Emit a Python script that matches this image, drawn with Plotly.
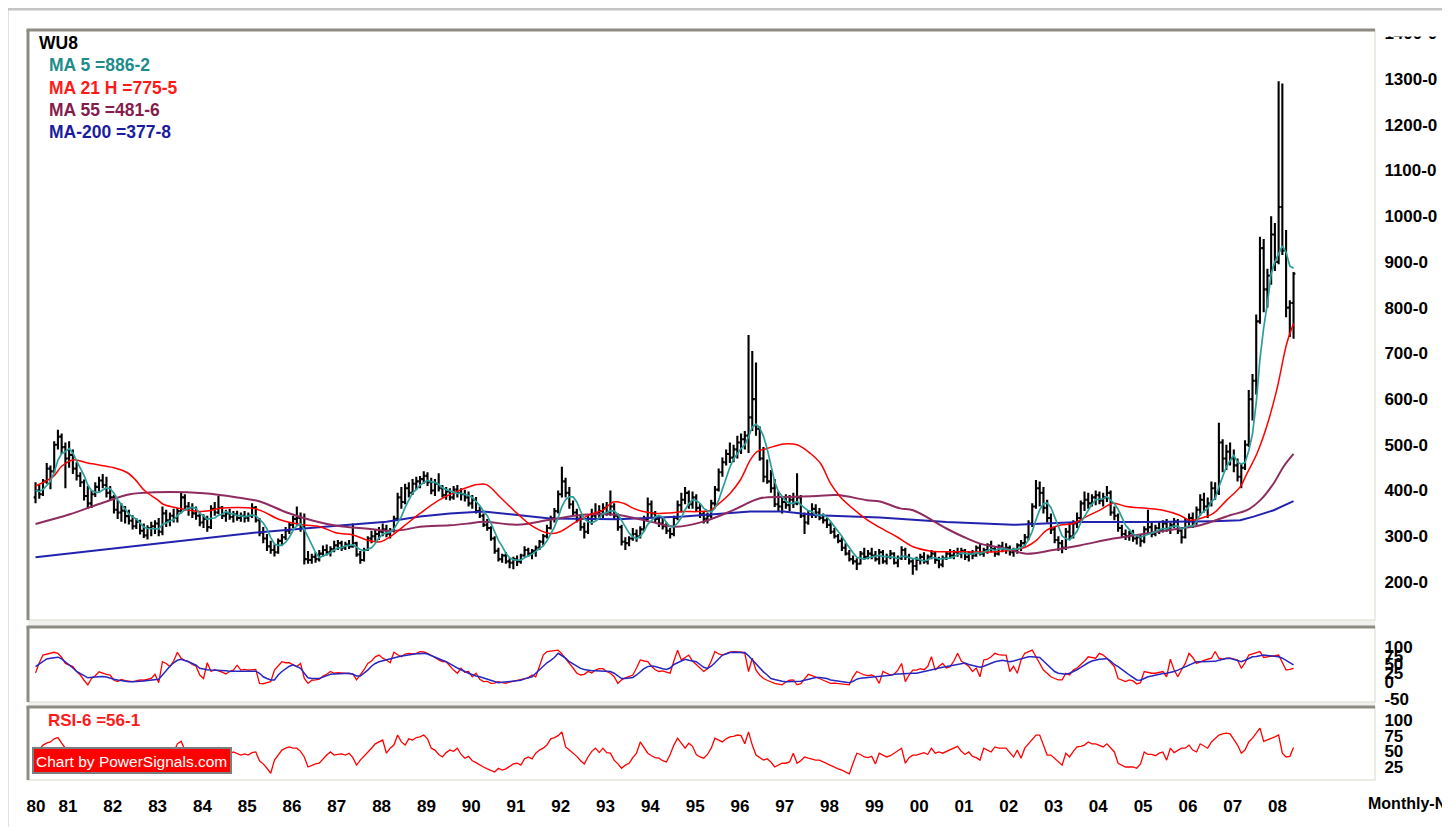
import plotly.graph_objects as go

# ---------------------------------------------------------------
# Monthly bars, May 1980 .. Jun 2008 (month index 0 = Jan 1980)
# ---------------------------------------------------------------
open_ = [
 385,400,392,420,448,442,500,518,                      # 1980 (May-Dec)
 495,470,478,448,432,418,388,372,392,408,422,412,      # 1981
 395,385,358,352,356,344,334,322,332,312,302,318,      # 1982
 322,328,310,350,335,345,340,355,385,365,362,350,      # 1983
 345,330,338,320,360,352,362,345,350,342,348,340,      # 1984
 345,340,345,362,335,308,295,278,270,265,290,298,      # 1985
 312,325,338,340,320,250,248,255,250,262,270,265,      # 1986
 272,280,285,275,282,278,285,260,248,270,295,300,      # 1987
 305,310,315,305,312,338,385,375,405,395,415,420,      # 1988
 425,432,418,400,415,405,390,398,385,402,395,392,      # 1989
 385,372,380,355,345,325,318,295,268,250,258,245,      # 1990
 242,250,245,258,270,262,268,275,288,300,318,340,      # 1991
 355,392,420,395,370,352,338,320,310,338,345,350,      # 1992
 355,362,350,365,345,320,288,285,295,305,300,315,      # 1993
 338,370,350,338,328,322,312,305,340,368,380,395,      # 1994
 370,385,362,348,338,345,372,402,440,462,480,472,      # 1995
 490,505,512,520,560,600,535,470,430,420,405,370,      # 1996
 365,375,368,380,372,385,345,330,348,360,352,340,      # 1997
 335,325,310,300,290,275,262,250,245,240,262,255,      # 1998
 262,258,250,265,245,255,262,242,252,270,255,245,      # 1999
 235,248,255,245,255,262,248,238,252,262,258,265,      # 2000
 262,268,255,262,258,275,262,270,280,272,262,278,      # 2001
 272,275,265,270,280,285,298,328,365,405,395,362,      # 2002
 340,315,292,285,275,310,300,328,340,372,380,372,      # 2003
 385,390,378,385,395,352,345,318,305,300,306,295,      # 2004
 298,290,315,320,305,318,312,328,315,325,332,312,      # 2005
 298,332,340,330,358,380,365,372,405,395,505,470,      # 2006
 485,470,455,430,450,500,600,640,770,930,840,870,      # 2007
 960,900,1020,925,800,810,                             # 2008 (Jan-Jun)
]
high = [
 418,412,425,460,455,508,533,525,
 505,508,490,462,440,424,410,400,418,430,436,430,
 410,390,380,372,366,358,346,340,336,328,324,332,
 335,340,365,358,352,360,362,395,392,375,372,365,
 352,348,345,368,375,388,366,358,360,355,356,352,
 355,352,372,366,340,320,305,290,282,295,305,320,
 330,345,365,352,350,268,262,265,270,280,282,278,
 290,292,290,288,292,328,288,268,275,300,312,315,
 320,328,325,318,345,395,408,415,418,425,430,432,
 442,440,428,425,438,412,408,405,410,412,405,402,
 398,390,386,365,350,338,322,300,275,262,265,252,
 255,258,262,278,275,272,280,292,305,325,345,362,
 400,452,428,408,378,360,348,330,345,360,372,368,
 372,375,400,372,350,325,298,300,318,315,322,345,
 385,378,355,345,340,330,318,345,378,395,408,400,
 398,392,372,355,352,380,410,448,472,490,505,500,
 520,525,530,740,705,680,540,495,468,445,425,398,
 385,392,390,395,438,390,352,355,372,370,362,350,
 340,332,318,305,298,285,270,258,252,268,275,270,
 275,268,272,270,262,270,265,258,278,275,262,250,
 255,262,265,260,270,268,255,258,268,272,270,275,
 275,272,268,270,280,284,275,285,290,278,282,288,
 285,280,275,285,292,305,335,372,423,420,408,380,
 350,322,300,292,318,330,335,352,378,398,395,392,
 400,398,395,410,400,365,350,325,315,312,314,305,
 305,322,358,330,325,332,335,338,330,340,338,320,
 340,350,352,365,392,395,385,420,418,548,512,500,
 505,490,470,460,510,620,655,785,955,950,885,1000,
 985,1295,1290,970,816,878,
]
low = [
 372,382,388,415,403,438,490,480,
 405,450,436,422,408,378,360,362,386,398,405,385,
 378,350,338,332,328,326,315,316,304,296,293,300,
 305,300,302,320,322,330,330,350,356,345,340,336,
 322,318,310,316,345,348,338,332,336,330,334,332,
 330,332,340,330,300,285,268,262,256,262,280,292,
 305,318,325,310,238,240,240,242,245,255,258,256,
 265,270,268,270,272,275,255,240,245,268,285,290,
 292,300,298,295,308,335,360,370,385,390,402,405,
 415,410,392,388,398,385,380,378,380,385,378,376,
 365,360,350,340,320,312,290,262,245,242,240,230,
 228,235,240,255,255,250,255,270,280,295,315,330,
 350,385,385,360,345,330,312,295,305,325,335,338,
 340,345,345,338,312,280,270,278,290,288,295,310,
 335,342,330,320,315,305,295,300,335,352,370,360,
 360,355,340,328,328,340,365,398,430,455,460,462,
 470,480,490,482,530,520,465,418,415,395,364,355,
 350,360,355,362,368,340,305,325,340,340,335,328,
 318,305,295,285,268,258,245,238,226,238,248,250,
 250,245,238,240,238,250,238,232,248,248,238,216,
 225,238,240,238,250,240,230,232,248,252,250,255,
 252,248,245,250,255,258,255,262,265,255,258,265,
 262,258,255,262,268,278,292,320,360,365,350,330,
 305,285,268,263,270,292,295,318,335,355,360,365,
 368,370,365,375,345,335,310,298,292,290,288,282,
 277,285,305,298,300,305,308,310,305,318,305,284,
 295,322,318,325,345,352,340,365,380,390,440,445,
 455,440,420,405,445,495,553,610,765,790,800,850,
 880,895,915,779,736,732,
]
close = [
 400,392,420,448,442,500,518,495,
 470,478,448,432,418,388,372,392,408,422,412,395,
 385,358,352,356,344,334,322,332,312,302,318,322,
 328,310,350,335,345,340,355,385,365,362,350,345,
 330,338,320,360,352,362,345,350,342,348,340,345,
 340,345,362,335,308,295,278,270,265,290,298,312,
 325,338,340,320,250,248,255,250,262,270,265,272,
 280,285,275,282,278,285,260,248,270,295,300,305,
 310,315,305,312,338,385,375,405,395,415,420,425,
 432,418,400,415,405,390,398,385,402,395,392,385,
 372,380,355,345,325,318,295,268,250,258,245,242,
 250,245,258,270,262,268,275,288,300,318,340,355,
 392,420,395,370,352,338,320,310,338,345,350,355,
 362,350,365,345,320,288,285,295,305,300,315,338,
 370,350,338,328,322,312,305,340,368,380,395,370,
 385,362,348,338,345,372,402,440,462,480,472,490,
 505,512,520,560,600,535,470,430,420,405,370,365,
 375,368,380,372,385,345,330,348,360,352,340,335,
 325,310,300,290,275,262,250,245,240,262,255,262,
 258,250,265,245,255,262,242,252,270,255,245,235,
 248,255,245,255,262,248,238,252,262,258,265,262,
 268,255,262,258,275,262,270,280,272,262,278,272,
 275,265,270,280,285,298,328,365,405,395,362,340,
 315,292,285,275,310,300,328,340,372,380,372,385,
 390,378,385,395,352,345,318,305,300,306,295,298,
 290,315,320,305,318,312,328,315,325,332,312,298,
 332,340,330,358,380,365,372,405,395,505,470,485,
 470,455,430,450,500,600,640,770,930,840,870,960,
 900,1020,925,800,810,874,
]
# MA 5 (teal line), read month by month
ma5 = [
 400,398,402,412,420,440,466,481,
 485,492,482,465,449,433,412,400,396,396,401,406,
 404,394,380,369,359,349,342,338,329,320,317,317,
 316,316,326,329,334,336,345,352,358,361,363,361,
 350,345,337,339,340,346,348,354,350,349,345,345,
 343,344,346,345,338,329,316,297,283,280,280,287,
 298,313,323,327,315,299,283,265,253,257,260,264,
 270,274,275,279,280,281,276,271,268,272,275,284,
 296,305,307,309,316,331,343,363,380,395,402,412,
 417,422,419,418,414,406,402,399,396,394,394,392,
 389,385,377,367,355,345,328,310,291,278,263,253,
 249,248,248,253,257,261,267,273,279,290,304,320,
 341,365,380,386,386,375,355,338,332,330,333,340,
 350,352,356,355,348,334,321,307,299,295,300,311,
 326,335,342,345,342,330,321,321,329,341,358,371,
 380,378,372,361,356,353,361,379,404,431,451,469,
 482,492,500,517,539,545,537,519,491,452,419,398,
 387,377,372,372,376,370,362,356,354,347,346,347,
 342,332,322,312,300,287,275,264,254,252,250,253,
 255,257,258,256,255,255,254,251,256,256,253,251,
 251,248,246,248,253,253,250,251,252,252,255,260,
 263,262,262,261,264,262,265,269,272,269,272,273,
 272,270,272,272,275,280,292,311,336,358,371,373,
 363,341,319,301,295,292,300,311,330,344,358,370,
 380,381,382,387,380,371,359,343,324,315,305,301,
 298,301,304,306,310,314,317,316,320,322,322,316,
 320,323,322,332,348,355,361,376,383,408,429,452,
 465,477,462,458,461,487,524,592,688,756,810,874,
 900,918,935,921,891,886,
]
# Smooth averages, read as points (month index, value)
ma21_m = [4, 8.8, 11, 14, 18, 22.2, 25, 28.4, 30.6, 33.2, 36.8, 38.2, 42.7, 48.1, 50.7, 53.4,
          62.3, 65, 69.5, 75.7, 80.2, 84.7, 89.1, 92.7, 96.3, 99, 102.5, 107, 112.3, 117.7,
          120.4, 122.2, 124.8, 128.4, 133, 137.3, 141.8, 144.5, 148.9, 153.4, 156, 158.8,
          161.5, 164.2, 166.8, 170.4, 174, 177.6, 181.2, 184.8, 186.6, 190.1, 192.8, 195.5,
          197.3, 200, 204.5, 208, 211.6, 214.3, 217, 219.6, 222.3, 226.8, 231.3, 234.7,
          239.1, 243.6, 252.5, 261.4, 267.7, 269.4, 272.1, 274.8, 278.4, 282, 285.5, 289.1,
          292.7, 296.2, 301.6, 306, 310.5, 313.2, 316, 319.5, 323.1, 326.7, 328.5, 331.2,
          333.8, 336.5, 339.2, 341]
ma21_v = [410, 431, 453, 467, 460, 454, 450, 440, 425, 400, 379, 370, 361, 354, 356, 361,
          361, 354, 336, 325, 321, 307, 303, 292, 288, 299, 321, 350, 380, 401,
          409, 413, 413, 386, 350, 321, 306, 310, 332, 350, 357, 375,
          372, 361, 354, 350, 351, 354, 354, 357, 368, 394, 423, 467,
          485, 492, 502, 500, 481, 459, 415, 386, 365, 336, 314, 299,
          277, 268, 266, 266, 273, 277, 291, 313, 324, 328, 343, 357,
          372, 365, 361, 357, 346, 335, 339, 350, 379, 408, 437, 481,
          540, 620, 722, 765]
ma55_m = [4, 13.2, 22.2, 29.3, 35.6, 49.1, 58, 64.1, 71.3, 78.4, 84.7, 93.6, 98, 102.5, 107,
          115, 120, 124, 133, 141.8, 150.7, 159.7, 168.6, 175.7, 182.9, 190.9, 198.1, 204.4,
          213.3, 218.7, 226.7, 230.2, 235.6, 239.1, 248, 252.5, 257, 264.1, 269.4, 276.6,
          283.7, 292.7, 301.6, 310.5, 316, 324, 328.5, 332.1, 335.7, 338.3, 341]
ma55_v = [327, 348, 374, 392, 396, 394, 385, 376, 352, 334, 323, 316, 312, 314, 321,
          324, 328, 332, 325, 336, 347, 347, 332, 321, 332, 357, 383, 386,
          388, 390, 379, 376, 361, 357, 317, 299, 284, 273, 262, 270,
          280, 295, 306, 317, 324, 346, 357, 379, 416, 452, 480]
ma200_m = [4, 64.1, 84.7, 98, 107, 115, 124, 141.8, 159.7, 177.6, 195.5, 204.4, 213.3,
           222.3, 230.2, 248, 265.9, 283.7, 301.6, 319.5, 326.7, 330.3, 335.7, 341]
ma200_v = [254, 309, 323, 332, 343, 350, 354, 339, 337, 343, 354, 354, 346,
           343, 341, 331, 325, 331, 331, 333, 335, 343, 357, 377]

# Stochastic panel (%K red, %D blue), monthly
stoch_k = [
 26,55,77,80,82,85,82,70,
 53,48,44,30,20,5,-8,10,18,29,25,22,
 20,5,1,7,4,2,1,3,6,5,8,10,
 22,-2,58,53,44,60,85,68,62,58,50,45,
 20,10,55,30,35,32,28,23,30,34,48,34,
 36,34,34,36,-4,-5,-2,1,34,45,58,55,
 55,49,44,53,10,-4,5,6,8,17,22,30,
 25,27,26,27,25,23,6,20,35,53,60,72,
 77,68,63,55,85,78,72,80,82,80,82,87,
 86,82,77,70,63,58,58,45,34,25,39,28,
 30,15,25,8,1,2,-4,-3,1,-2,-4,0,
 2,4,6,10,12,20,15,45,77,87,88,90,
 91,80,68,53,40,25,20,22,30,26,34,38,
 38,30,25,15,-4,6,12,16,20,40,63,60,
 58,45,35,30,32,28,25,60,91,63,70,77,
 60,50,39,30,38,60,87,80,77,82,85,87,
 87,85,82,30,68,34,20,10,5,0,-4,-6,
 -8,0,5,6,-8,-5,10,22,18,15,10,5,
 0,-4,-3,-4,-6,-8,-8,15,30,25,20,18,
 20,15,-4,30,25,20,22,34,53,1,20,34,
 34,38,35,44,72,34,45,53,40,44,60,82,
 60,53,45,30,40,15,63,65,72,82,78,77,
 77,30,45,25,63,82,87,91,72,53,34,25,
 15,10,6,6,25,20,34,40,49,60,72,70,
 68,82,77,68,55,44,10,5,1,6,3,-6,
 -2,30,27,25,25,27,30,15,65,34,15,35,
 53,82,70,53,58,62,65,68,87,68,65,68,
 68,65,63,39,55,77,80,82,87,70,71,72,
 75,77,53,34,36,39,
]
stoch_d = [
 44,52,60,66,68,70,71,66,
 58,50,40,30,25,18,12,12,14,15,16,14,
 10,8,6,4,3,1,1,1,2,3,4,6,
 7,8,20,34,45,55,62,65,62,58,53,48,
 39,36,35,34,34,33,32,32,31,31,32,32,
 31,31,31,31,25,15,10,6,6,20,30,38,
 45,49,45,39,25,12,10,10,10,14,18,22,
 23,24,24,25,25,22,17,17,25,34,45,53,
 58,61,63,65,68,72,74,76,78,80,81,81,
 82,80,75,70,67,62,58,53,46,40,34,30,
 25,20,17,15,12,8,4,1,-2,-1,0,1,
 1,2,5,9,13,15,25,35,45,55,62,70,
 82,75,68,58,52,45,39,36,33,32,32,32,
 31,30,30,25,18,10,10,12,13,20,30,38,
 44,46,44,40,38,36,40,50,55,62,65,62,
 60,58,50,42,39,45,55,66,77,80,84,85,
 85,85,84,75,63,50,38,29,20,10,7,4,
 2,1,1,1,1,2,5,8,11,13,13,12,
 10,6,4,2,0,-2,-2,2,8,11,12,13,
 14,14,15,15,17,19,22,23,24,25,25,25,
 25,27,30,33,35,37,40,42,44,46,48,50,
 53,54,50,47,45,42,45,50,54,58,60,62,
 60,58,60,63,65,68,72,72,71,70,60,49,
 40,30,25,23,22,25,29,35,42,49,55,60,
 63,65,66,67,60,50,44,35,28,20,12,6,
 5,10,15,17,20,22,24,25,27,30,34,39,
 44,50,54,58,58,58,58,58,59,62,65,67,
 68,65,62,58,62,68,72,73,75,77,76,75,
 74,72,68,62,55,49,
]
# RSI-6 panel, monthly
rsi6 = [
 45,52,60,63,65,70,72,63,
 55,50,45,40,35,28,25,35,45,52,48,40,
 38,30,28,33,30,28,25,32,25,22,35,40,
 42,30,55,48,50,48,62,66,52,50,45,44,
 38,35,30,55,50,56,45,48,46,49,47,44,
 46,44,48,49,35,30,23,15,36,45,52,55,
 57,55,55,50,41,25,28,30,31,38,44,49,
 44,45,46,44,47,40,28,36,42,49,55,62,
 65,68,47,55,60,76,65,60,70,68,72,73,
 76,70,55,52,45,41,48,52,50,55,45,39,
 42,35,32,28,25,22,20,17,23,20,22,26,
 30,31,28,38,41,38,47,52,55,60,70,72,
 75,81,57,52,47,42,35,30,41,50,55,48,
 55,48,47,36,30,23,28,31,40,47,65,55,
 47,43,40,39,35,33,45,60,71,63,55,63,
 58,45,41,39,45,55,71,68,65,70,73,74,
 76,75,62,81,60,44,40,36,38,33,25,28,
 31,31,33,47,31,35,41,39,37,36,36,33,
 30,28,25,22,20,17,14,31,47,45,41,40,
 42,30,47,44,41,43,47,50,55,31,40,44,
 44,46,48,45,55,47,49,47,50,52,55,58,
 50,45,49,42,40,36,55,52,49,57,55,55,
 55,48,41,52,39,55,62,68,76,76,60,44,
 44,39,34,28,47,41,50,57,58,60,65,62,
 62,60,57,62,55,49,31,28,25,25,25,23,
 30,49,45,45,43,47,49,36,55,48,52,55,
 55,60,52,49,62,58,55,65,70,76,78,79,
 78,68,60,47,52,65,71,79,87,66,68,70,
 73,76,47,41,42,56,
]

year_labels = ["80", "81", "82", "83", "84", "85", "86", "87", "88", "89", "90", "91", "92",
               "93", "94", "95", "96", "97", "98", "99", "00", "01", "02", "03", "04", "05",
               "06", "07", "08"]
price_ticks = [200, 300, 400, 500, 600, 700, 800, 900, 1000, 1100, 1200, 1300, 1400]
stoch_ticks = [100, 75, 50, 25, 0, -50]
rsi_ticks = [100, 75, 50, 25]
legend_lines = [("WU8", "black", 37), ("MA 5 =886-2", "#1f8c8c", 47),
                ("MA 21 H =775-5", "#ff1a1a", 47), ("MA 55 =481-6", "#861c4c", 47),
                ("MA-200 =377-8", "#1c1ca0", 47)]

n = len(close)
for arr in (open_, high, low, ma5, stoch_k, stoch_d, rsi6):
    assert len(arr) == n, len(arr)
months = list(range(4, 4 + n))   # 4 = May 1980

# ---------------------------------------------------------------
# Geometry (page pixels). The page body has an 8 px margin, so the
# figure itself is placed 8 px right/down of the window corner.
OFF = 8
W, H = 1450 - OFF, 827 - OFF
PL, PR, PT, PB = 28, 1375, 30, 780          # plot area in page pixels


def fx(p):
    return (p - PL) / (PR - PL)


def fy(p):
    return (PB - p) / (PB - PT)


FONT = "Liberation Sans, Arial, sans-serif"
TEAL, RED, MAROON, NAVY, SBLUE = "#2a9e9b", "#ff0000", "#8e2c5f", "#2222b0", "#2626c0"

fig = go.Figure()
fig.add_trace(go.Ohlc(x=months, open=open_, high=high, low=low, close=close,
                      increasing=dict(line=dict(color="black", width=2.1)),
                      decreasing=dict(line=dict(color="black", width=2.1)),
                      tickwidth=0.5, xaxis="x", yaxis="y", hoverinfo="skip"))
fig.add_trace(go.Scatter(x=ma200_m, y=ma200_v, mode="lines", line=dict(color=NAVY, width=2),
                         xaxis="x", yaxis="y"))
fig.add_trace(go.Scatter(x=ma55_m, y=ma55_v, mode="lines", line=dict(color=MAROON, width=2),
                         line_shape="spline", xaxis="x", yaxis="y"))
fig.add_trace(go.Scatter(x=ma21_m, y=ma21_v, mode="lines", line=dict(color=RED, width=1.5),
                         line_shape="spline", xaxis="x", yaxis="y"))
fig.add_trace(go.Scatter(x=months, y=ma5, mode="lines", line=dict(color=TEAL, width=1.7),
                         xaxis="x", yaxis="y"))
fig.add_trace(go.Scatter(x=months, y=stoch_k, mode="lines", line=dict(color=RED, width=1.3),
                         xaxis="x2", yaxis="y2"))
fig.add_trace(go.Scatter(x=months, y=stoch_d, mode="lines", line=dict(color=SBLUE, width=1.5),
                         xaxis="x2", yaxis="y2"))
fig.add_trace(go.Scatter(x=months, y=rsi6, mode="lines", line=dict(color=RED, width=1.3),
                         xaxis="x3", yaxis="y3"))

# axis ranges reproduce the pixel geometry of the original panels
xr = [(PL - 20.6) / 3.733, (PR - 20.6) / 3.733]
ax_common = dict(showgrid=False, zeroline=False, showline=False, fixedrange=True)
tfont = dict(family=FONT, size=17, color="black", weight="bold")

year_pos = [4.1] + [12.7 + 12 * k for k in range(len(year_labels) - 1)]

fig.update_layout(
    width=W, height=H,
    margin=dict(l=PL - OFF, r=W - (PR - OFF), t=PT - OFF, b=H - (PB - OFF), autoexpand=False),
    paper_bgcolor="white", plot_bgcolor="white", showlegend=False,
    xaxis=dict(domain=[0, 1], range=xr, anchor="y", showticklabels=False,
               rangeslider=dict(visible=False), **ax_common),
    xaxis2=dict(domain=[0, 1], range=xr, anchor="y2", showticklabels=False, **ax_common),
    xaxis3=dict(domain=[0, 1], range=xr, anchor="y3", tickvals=year_pos, ticktext=year_labels,
                ticks="outside", ticklen=11, tickcolor="rgba(0,0,0,0)", tickfont=tfont,
                tickangle=0, **ax_common),
    yaxis=dict(domain=[fy(620), 1], range=[200 - 38 / 0.4573, 200 + 552 / 0.4573], anchor="x",
               side="right", tickvals=price_ticks,
               ticktext=[f"{v}-0" for v in price_ticks], ticks="outside", ticklen=5,
               tickcolor="rgba(0,0,0,0)", tickfont=tfont, **ax_common),
    yaxis2=dict(domain=[fy(702), fy(627)], range=[(682 - 702) / 0.35, (682 - 627) / 0.35],
                anchor="x2", side="right", tickvals=stoch_ticks,
                ticktext=[str(v) for v in stoch_ticks], ticks="outside", ticklen=5,
                tickcolor="rgba(0,0,0,0)", tickfont=tfont, **ax_common),
    yaxis3=dict(domain=[0, fy(707)], range=[25 + (767 - 780) / 0.6267, 25 + (767 - 707) / 0.6267],
                anchor="x3", side="right", tickvals=rsi_ticks,
                ticktext=[str(v) for v in rsi_ticks], ticks="outside", ticklen=5,
                tickcolor="rgba(0,0,0,0)", tickfont=tfont, **ax_common),
)

DARK, LIGHT, BAND = "#8e8c82", "#e6e5dc", "#f1f1ee"
shapes = []
# light separator bands between the panels
for y0, y1 in [(620, 627), (702, 707)]:
    shapes.append(dict(type="rect", xref="paper", yref="paper", x0=fx(PL), x1=fx(PR),
                       y0=fy(y1), y1=fy(y0), fillcolor=BAND, line=dict(width=0), layer="above"))
for top, bot in [(30, 620), (627, 702), (707, 780)]:
    shapes.append(dict(type="rect", xref="paper", yref="paper", x0=fx(PL), x1=fx(PR),
                       y0=fy(bot), y1=fy(top), line=dict(color=LIGHT, width=1.5), layer="above"))
    shapes.append(dict(type="line", xref="paper", yref="paper", x0=fx(PL - 1.5), x1=fx(PR),
                       y0=fy(top), y1=fy(top), line=dict(color=DARK, width=3), layer="above"))
    shapes.append(dict(type="line", xref="paper", yref="paper", x0=fx(PL), x1=fx(PL),
                       y0=fy(bot), y1=fy(top), line=dict(color=DARK, width=3), layer="above"))
# hide most of the top (1400) label, as it is clipped in the original
shapes.append(dict(type="rect", xref="paper", yref="paper", x0=fx(PR + 2), x1=fx(1446),
                   y0=fy(36.5), y1=fy(11), fillcolor="white", line=dict(width=0), layer="above"))
# watermark box in the RSI panel
shapes.append(dict(type="rect", xref="paper", yref="paper", x0=fx(33), x1=fx(231),
                   y0=fy(773), y1=fy(748), fillcolor="#ff0000",
                   line=dict(color="#7d7d7d", width=2), layer="above"))
# outer grey frame
shapes.append(dict(type="rect", xref="paper", yref="paper", x0=fx(7), x1=fx(1447),
                   y0=fy(845), y1=fy(9), line=dict(color="#c4c4c4", width=3), layer="above"))

ann = []
for i, (txt, col, xl) in enumerate(legend_lines):
    yc = [43, 65, 88, 110, 132][i]
    ann.append(dict(text=txt, x=fx(xl), y=fy(yc), xref="paper", yref="paper",
                    xanchor="left", yanchor="middle", showarrow=False,
                    font=dict(family=FONT, size=17.5, color=col, weight="bold")))
ann.append(dict(text="RSI-6 =56-1", x=fx(46), y=fy(720), xref="paper", yref="paper",
                xanchor="left", yanchor="middle", showarrow=False,
                font=dict(family=FONT, size=17, color="#ff1a1a", weight="bold")))
ann.append(dict(text="Chart by PowerSignals.com", x=fx(132), y=fy(761), xref="paper",
                yref="paper", xanchor="center", yanchor="middle", showarrow=False,
                font=dict(family=FONT, size=15.5, color="white")))
ann.append(dict(text="Monthly-N", x=fx(1366), y=fy(803), xref="paper", yref="paper",
                xanchor="left", yanchor="middle", showarrow=False,
                font=dict(family=FONT, size=16, color="black", weight="bold")))

fig.update_layout(shapes=shapes, annotations=ann)
fig.write_html("out.html")
